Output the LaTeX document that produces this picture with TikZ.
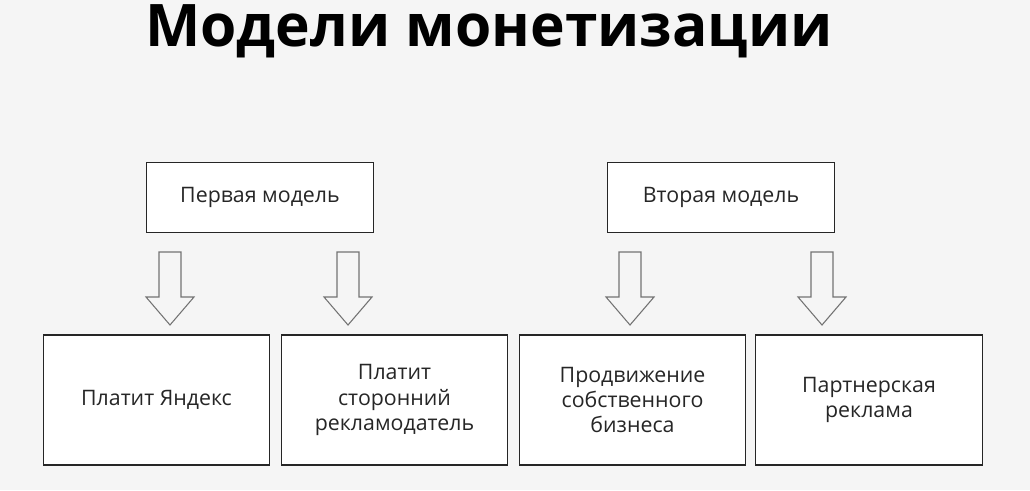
\documentclass[tikz,border=0pt]{standalone}
\usepackage{fontspec}
\setmainfont{Open Sans}
\begin{document}
\begin{tikzpicture}[x=0.75pt,y=-0.75pt,
  box/.style={draw=black!85,line width=0.9pt,fill=white,minimum width=170pt,align=center,font=\fontsize{16}{19}\selectfont,text=black!85},
  topbox/.style={box,minimum height=53pt},
  botbox/.style={box,minimum height=97.5pt},
  harrow/.style={draw=black!55,line width=0.8pt,fill=black!4}]
\fill[black!4] (0,0) rectangle (1030,490);
\useasboundingbox (0,0) rectangle (1030,490);
\node (title) at (489,31) {\fontsize{44}{46}\selectfont\bfseries Модели монетизации};
\node[topbox] (m1) at (260,197.5) {Первая модель};
\node[topbox] (m2) at (721,197.5) {Вторая модель};
\node[botbox] (b1) at (156.5,400) {Платит Яндекс};
\node[botbox] (b2) at (394.5,400) {Платит\\сторонний\\рекламодатель};
\node[botbox] (b3) at (632.5,400) {Продвижение\\собственного\\бизнеса};
\node[botbox] (b4) at (869,400) {Партнерская\\реклама};
\foreach \cx/\n in {170/a1,348/a2,630/a3,822/a4}{
  \draw[harrow] (\cx-11,252) -- (\cx+11,252) -- (\cx+11,297) -- (\cx+24,297) -- (\cx,325) -- (\cx-24,297) -- (\cx-11,297) -- cycle;
  \coordinate (\n) at (\cx,325);
}
\end{tikzpicture}
\end{document}
